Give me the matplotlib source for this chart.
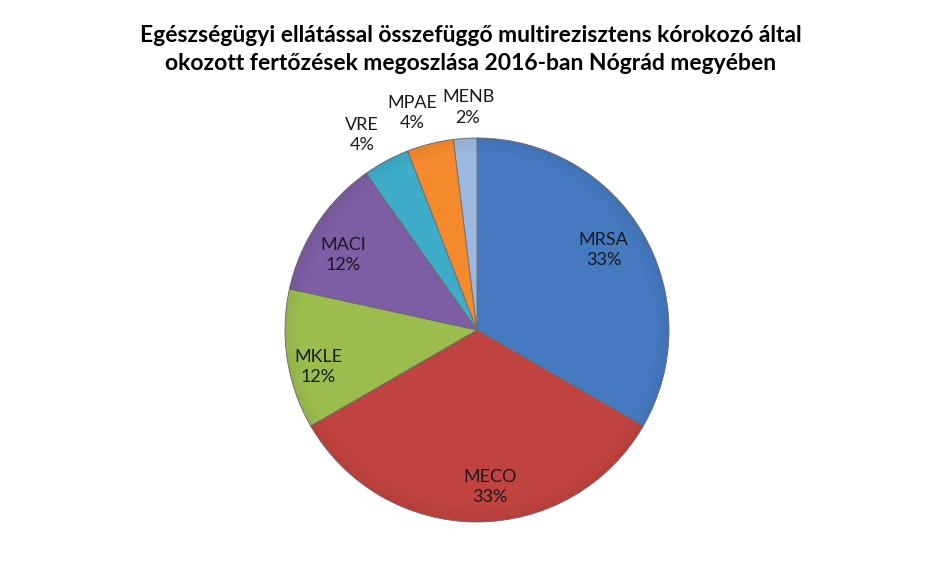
import numpy as np
import matplotlib
matplotlib.use('Agg')
import matplotlib.pyplot as plt
from matplotlib.patches import Wedge

# data
labels = ['MRSA', 'MECO', 'MKLE', 'MACI', 'VRE', 'MPAE', 'MENB']
counts = [17, 17, 6, 6, 2, 2, 1]
colors = ['#4579C0', '#C0433F', '#9BBD4E', '#7D5DA3', '#3DADC9', '#F48A2C', '#9DB8E0']
title_lines = ['Egészségügyi ellátással összefüggő multirezisztens kórokozó által',
               'okozott fertőzések megoszlása 2016-ban Nógrád megyében']

# where excel put the labels (angle in deg, radius as fraction of pie)
label_angle = [32.2, -85.3, 193.1, 150.8, 120.5, 106.6, 92.3]
label_rad = [0.78, 0.82, 0.85, 0.80, 1.18, 1.18, 1.16]

plt.rcParams['font.family'] = ['Lato', 'DejaVu Sans']

fig = plt.figure(figsize=(9.41, 5.61), dpi=100)
fig.text(0.5, 1 - 42 / 561, title_lines[0], ha='center', va='baseline',
         fontsize=16.5, fontweight='bold', color='black')
fig.text(0.5, 1 - 70 / 561, title_lines[1], ha='center', va='baseline',
         fontsize=16.5, fontweight='bold', color='black')

ax = fig.add_axes([285 / 941, 39 / 561, 384 / 941, 384 / 561])
wedges, _ = ax.pie(counts, colors=colors, startangle=90, counterclock=False,
                   radius=1.0,
                   wedgeprops={'edgecolor': '#6a6a6a', 'linewidth': 0.6})

# a little shading towards the rim, like the excel bevel
for w in wedges:
    for k in range(6):
        r = 1.0 - k * 0.012
        ring = Wedge((0, 0), r, w.theta1, w.theta2, width=0.012,
                     facecolor='black', alpha=0.05 * (6 - k) / 6, linewidth=0)
        ax.add_patch(ring)

total = float(sum(counts))
for lab, n, a, rr in zip(labels, counts, label_angle, label_rad):
    t = np.deg2rad(a)
    pct = '%d%%' % round(100 * n / total)
    ax.text(rr * np.cos(t), rr * np.sin(t), lab + '\n' + pct,
            ha='center', va='center', fontsize=13, color='#1a1a1a',
            linespacing=1.35)

ax.set_xlim(-1, 1)
ax.set_ylim(-1, 1)
ax.set_aspect('equal')
ax.axis('off')

fig.savefig('out.png', dpi=100)
